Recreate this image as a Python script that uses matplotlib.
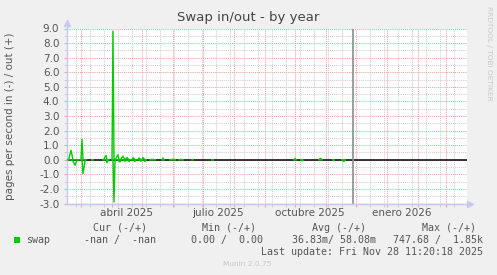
"""Munin-style yearly swap in/out graph, redrawn with matplotlib."""

import matplotlib

matplotlib.use("Agg")
import matplotlib.dates as mdates
import matplotlib.pyplot as plt
import numpy as np
import pandas as pd
from matplotlib.patches import Rectangle
from matplotlib.ticker import FormatStrFormatter, MultipleLocator, NullFormatter

nan = np.nan

# daily samples; nan marks unknown (gaps)
swap_dates = [
    "2025-02-16", "2025-02-17", "2025-02-19", "2025-02-21", "2025-02-23", "2025-02-25",
    "2025-02-26", "2025-02-27", "2025-02-28", "2025-03-01", "2025-03-02", "2025-03-03",
    "2025-03-05", "2025-03-06", "2025-03-07", "2025-03-12", "2025-03-13", "2025-03-14",
    "2025-03-23", "2025-03-24", "2025-03-26", "2025-03-27", "2025-03-28", "2025-03-29",
    "2025-03-30", "2025-04-01", "2025-04-02", "2025-04-03", "2025-04-04", "2025-04-05",
    "2025-04-07", "2025-04-08", "2025-04-09", "2025-04-10", "2025-04-12", "2025-04-14",
    "2025-04-16", "2025-04-18", "2025-04-19", "2025-04-20", "2025-04-21", "2025-04-22",
    "2025-04-24", "2025-04-25", "2025-04-26", "2025-04-27", "2025-04-28", "2025-04-30",
    "2025-05-01", "2025-05-02", "2025-05-04", "2025-05-05", "2025-05-06", "2025-05-09",
    "2025-05-11", "2025-05-14", "2025-05-15", "2025-05-21", "2025-05-22", "2025-05-23",
    "2025-05-24", "2025-05-29", "2025-06-01", "2025-06-03", "2025-06-04", "2025-06-07",
    "2025-06-09", "2025-06-11", "2025-06-12", "2025-06-20", "2025-06-21", "2025-06-22",
    "2025-07-10", "2025-07-11", "2025-07-12", "2025-09-30", "2025-10-01", "2025-10-02",
    "2025-10-03", "2025-10-07", "2025-10-08", "2025-10-09", "2025-10-10", "2025-10-25",
    "2025-10-26", "2025-10-27", "2025-10-28", "2025-10-29", "2025-11-08", "2025-11-09",
    "2025-11-10", "2025-11-17", "2025-11-18", "2025-11-19", "2025-11-20", "2025-11-21",
]
swap_out = [
    0, 0.1, 0.65, 0, 0, 0,
    0, nan, 0, 0.05, 1.4, 0,
    0, 0, nan, 0, 0, nan,
    0, 0.05, 0.3, 0, 0, 0,
    nan, 0, 8.8, 0, 0, 0.1,
    0.35, 0, 0, 0.05, 0.25, 0,
    0.15, 0, 0, nan, 0, 0.15,
    0, 0, nan, 0, 0.12, 0,
    0, 0.15, 0, 0, nan, 0,
    0.03, 0, nan, 0, 0.12, 0,
    nan, 0, 0.03, 0, nan, 0,
    0.03, 0, nan, 0, 0.02, nan,
    0, 0, nan, 0, 0.1, 0,
    nan, 0, 0, 0, nan, 0,
    0.08, 0.08, 0, nan, 0, 0,
    nan, 0, 0, 0, 0, nan,
]
swap_in = [
    0, 0, 0, 0.1, 0.38, 0.05,
    0, nan, 0, 0, 0, 0.95,
    0.1, 0, nan, 0, 0, nan,
    0, 0, 0, 0.2, 0.05, 0,
    nan, 0, 0, 2.9, 0.1, 0,
    0, 0.1, 0.15, 0, 0, 0.1,
    0, 0.12, 0, nan, 0, 0,
    0.12, 0, nan, 0, 0, 0.1,
    0, 0, 0.12, 0, nan, 0,
    0, 0, nan, 0, 0, 0,
    nan, 0, 0, 0, nan, 0,
    0, 0, nan, 0, 0, nan,
    0, 0.03, nan, 0, 0, 0,
    nan, 0, 0.07, 0.05, nan, 0,
    0, 0, 0, nan, 0, 0.05,
    nan, 0, 0.1, 0.1, 0.05, nan,
]

x_start = "2025-02-15"
x_end = "2026-03-22"
now_stamp = "2025-11-28 11:20"
label_dates = ["2025-04-16", "2025-07-16", "2025-10-16", "2026-01-16"]
label_texts = ["abril 2025", "julio 2025", "octubre 2025", "enero 2026"]

legend_headers = ["Cur (-/+)", "Min (-/+)", "Avg (-/+)", "Max (-/+)"]
legend_values = ["-nan /  -nan", "0.00 /  0.00", "36.83m/ 58.08m", "747.68 /  1.85k"]

W, H = 497, 275
BG = "#F0F0F0"
GREEN = "#00CC00"
MAJOR = "#EBA3A3"
MINOR = "#CFCFCF"
AXIS = "#C8C8F0"
TEXT = "#555555"
FAINT = "#C8C8C8"


def fx(x, y):
    """Pixel position -> figure fraction."""
    return x / W, 1 - y / H


def build_figure():
    plt.rcParams["axes.unicode_minus"] = False
    fig = plt.figure(figsize=(W / 100, H / 100), dpi=100, facecolor=BG)
    ax = fig.add_axes([67 / W, 1 - 203.5 / H, 400 / W, 175 / H])
    ax.set_facecolor("white")

    dates = pd.to_datetime(swap_dates)
    ax.set_xlim(pd.Timestamp(x_start), pd.Timestamp(x_end))
    ax.set_ylim(-3, 9)

    # grid
    ax.xaxis.set_major_locator(mdates.MonthLocator())
    ax.set_xticks(pd.date_range("2025-02-24", x_end, freq="14D"), minor=True)
    ax.xaxis.set_major_formatter(NullFormatter())
    ax.yaxis.set_major_locator(MultipleLocator(1))
    ax.yaxis.set_minor_locator(MultipleLocator(0.5))
    ax.yaxis.set_major_formatter(FormatStrFormatter("%.1f"))
    ax.grid(which="minor", color=MINOR, ls=(0, (1, 1)), lw=0.75, zorder=0)
    ax.grid(which="major", color=MAJOR, ls=(0, (1, 1)), lw=0.75, zorder=0)
    ax.set_axisbelow(True)
    ax.tick_params(which="major", direction="out", length=2, width=0.75, color=MAJOR,
                   labelcolor=TEXT, labelsize=7.5, pad=3.5)
    ax.tick_params(which="minor", direction="out", length=2, width=0.75, color=MINOR)

    for side in ("top", "right"):
        ax.spines[side].set_visible(False)
    for side in ("left", "bottom"):
        ax.spines[side].set_color(AXIS)
        ax.spines[side].set_linewidth(1)
    ax.plot([0, 0], [1, 1.03], color=AXIS, lw=1, transform=ax.transAxes, clip_on=False)
    ax.plot([0, 1.01], [0, 0], color=AXIS, lw=1, transform=ax.transAxes, clip_on=False)
    ax.plot([0], [1.03], marker="^", ms=4, color=AXIS, transform=ax.transAxes, clip_on=False)
    ax.plot([1.008], [0], marker=">", ms=4, color=AXIS, transform=ax.transAxes, clip_on=False)

    for d, t in zip(label_dates, label_texts):
        ax.text(pd.Timestamp(d), -0.052, t, transform=ax.get_xaxis_transform(),
                ha="center", va="center", fontsize=7.5, color=TEXT)

    ax.axhline(0, color="black", lw=1.1, zorder=2)
    ax.axvline(pd.Timestamp(now_stamp), color="#8C8C8C", lw=1.2, zorder=2)
    ax.plot(dates, swap_out, color=GREEN, lw=1.0, zorder=3)
    ax.plot(dates, -np.array(swap_in, dtype=float), color=GREEN, lw=1.0, zorder=3)

    # titles / side texts
    fig.text(*fx(248.5, 17.5), "Swap in/out - by year", ha="center", va="center",
             fontsize=9.5, color="#444444")
    fig.text(*fx(10.5, 116), "pages per second in (-) / out (+)", rotation=90,
             ha="center", va="center", fontsize=7.5, color=TEXT)
    fig.text(*fx(488.5, 53.5), "RRDTOOL / TOBI OETIKER", rotation=270,
             ha="center", va="center", fontsize=5.3, color=FAINT)
    fig.text(*fx(247.5, 264.5), "Munin 2.0.75", ha="center", va="center",
             fontsize=5.3, color=FAINT)

    # legend block
    mono = dict(family="DejaVu Sans Mono", fontsize=7.2, color=TEXT, va="center")
    for x, t in zip([147, 256, 366, 476], legend_headers):
        fig.text(*fx(x, 228), t, ha="right", **mono)
    fig.patches.append(Rectangle(fx(14, 242.5), 5.5 / W, 5.5 / H, facecolor=GREEN,
                                 edgecolor="none", transform=fig.transFigure))
    fig.text(*fx(26.5, 240), "swap", ha="left", **mono)
    for x, t in zip([156, 263, 376, 483], legend_values):
        fig.text(*fx(x, 240), t, ha="right", **mono)
    fig.text(*fx(483, 252), "Last update: Fri Nov 28 11:20:18 2025", ha="right", **mono)
    return fig


def main():
    fig = build_figure()
    fig.savefig("out.png", dpi=100, facecolor=BG)


if __name__ == "__main__":
    main()
